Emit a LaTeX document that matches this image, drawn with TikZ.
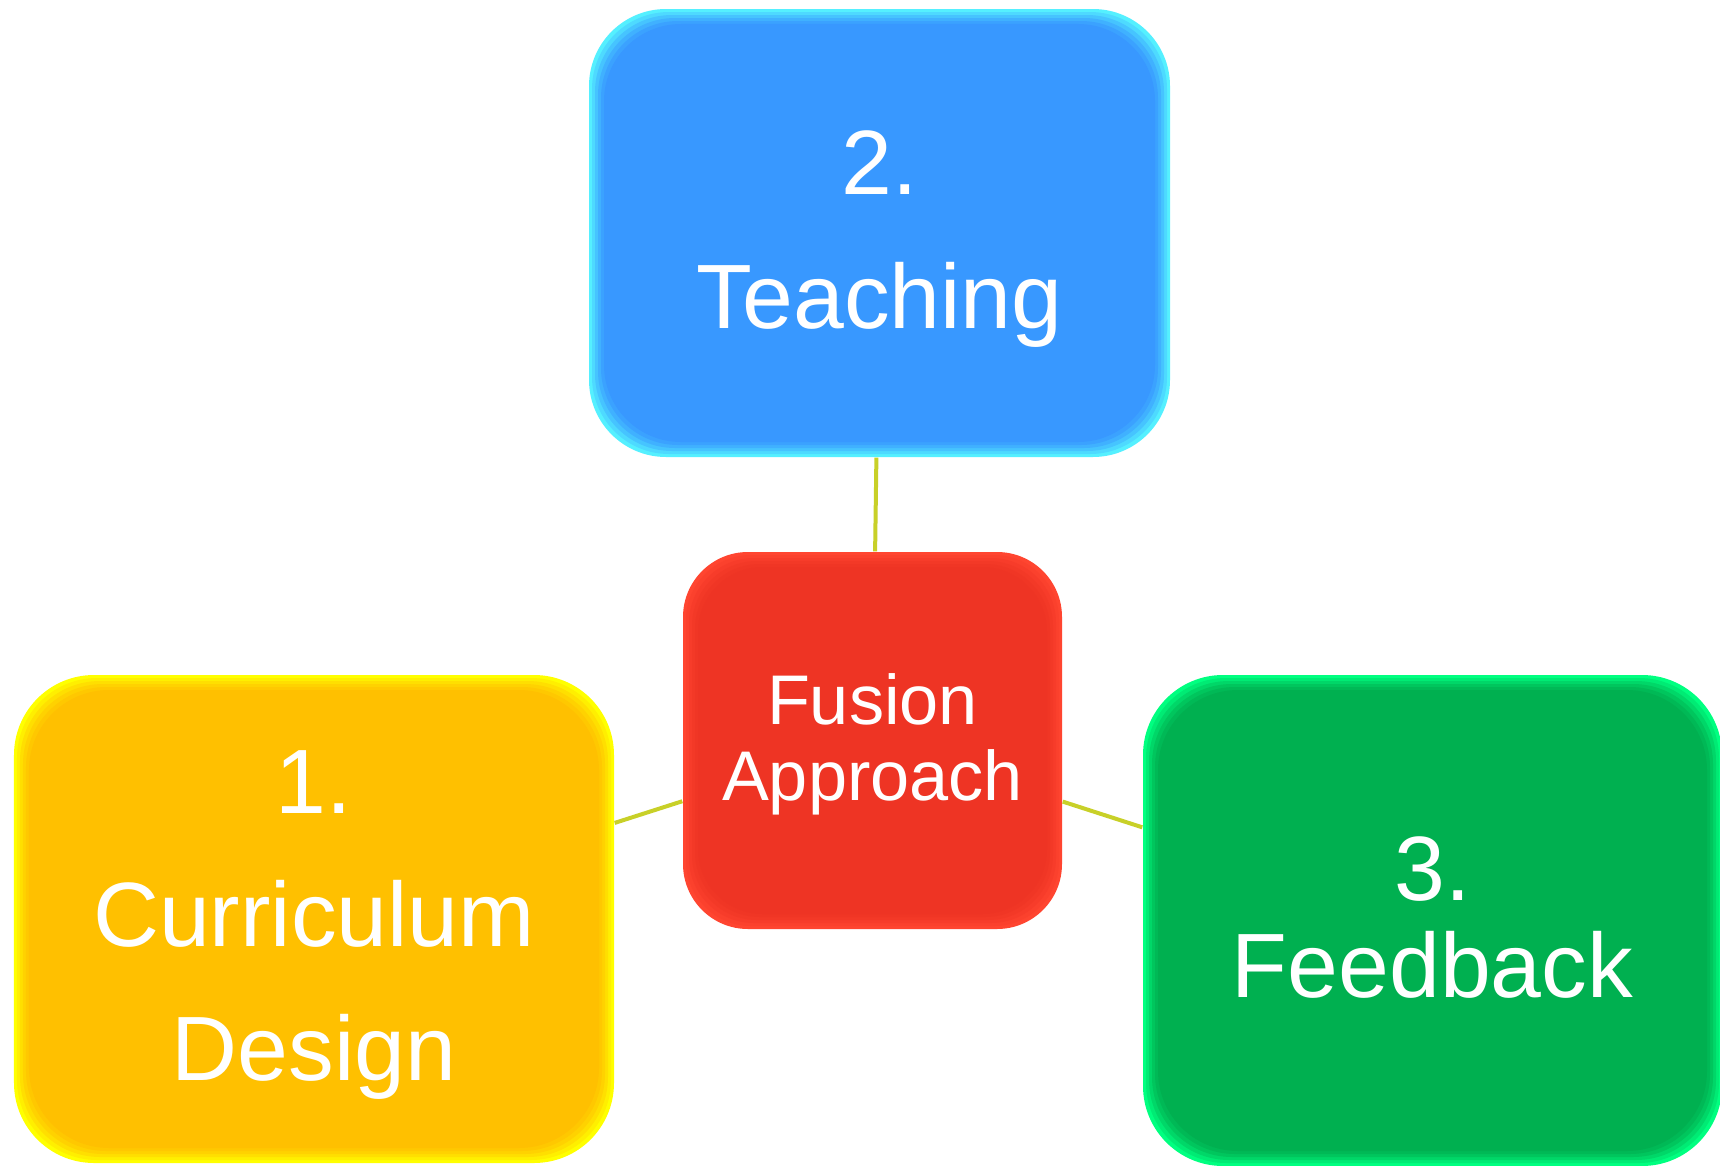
\documentclass[tikz,border=0pt]{standalone}
\usepackage{fontspec}
\setmainfont{Liberation Sans}
\usetikzlibrary{calc}

\definecolor{teachblue}{HTML}{3898FF}
\definecolor{teachglow}{HTML}{55F0FF}
\definecolor{currgold}{HTML}{FFC000}
\definecolor{currglow}{HTML}{FFFF00}
\definecolor{feedgreen}{HTML}{00B050}
\definecolor{feedglow}{HTML}{00FF80}
\definecolor{fusionred}{HTML}{EE3424}
\definecolor{fusionglow}{HTML}{FF4530}
\definecolor{linkcolor}{HTML}{C8D028}

\tikzset{
  % rounded box, fading from the glow colour at the rim to the body colour
  box/.style n args={3}{rectangle, rounded corners=#3, fill=#2, text=white,
    inner sep=0pt, align=center, text depth=2pt,
    path picture={
      \foreach \d/\m in {0.03/25, 0.06/50, 0.09/72, 0.12/88, 0.15/100}
        \fill [#1!\m!#2, rounded corners=#3]
          ($(path picture bounding box.south west)+(\d,\d)$)
          rectangle ($(path picture bounding box.north east)-(\d,\d)$);
    }},
  bigtext/.style={font=\fontsize{26pt}{38pt}\selectfont},
  tighttext/.style={font=\fontsize{26pt}{27.5pt}\selectfont},
  smalltext/.style={font=\fontsize{20pt}{21.5pt}\selectfont},
  link/.style={draw=linkcolor, line width=0.04cm}
}

\begin{document}
\begin{tikzpicture}
\fill [color=white] (0, 0) rectangle (17.2, -11.66);
\useasboundingbox (0, 0) rectangle (17.2, -11.66);

\node (teach) at (8.795, -2.33) [box={teachblue}{teachglow}{0.77cm}, minimum width=5.81cm, minimum height=4.48cm, bigtext] {2.\\Teaching};
\node (fusion) at (8.725, -7.405) [box={fusionred}{fusionglow}{0.65cm}, minimum width=3.79cm, minimum height=3.77cm, smalltext] {Fusion\\Approach};
\node (curr) at (3.14, -9.19) [box={currgold}{currglow}{0.8cm}, minimum width=6cm, minimum height=4.88cm, bigtext] {1.\\Curriculum\\Design};
\node (feed) at (14.325, -9.205) [box={feedgreen}{feedglow}{0.8cm}, minimum width=5.79cm, minimum height=4.91cm, tighttext] {3.\\Feedback};

\draw [link] (teach) -- (fusion);
\draw [link] (curr) -- (fusion);
\draw [link] (feed) -- (fusion);
\end{tikzpicture}
\end{document}
